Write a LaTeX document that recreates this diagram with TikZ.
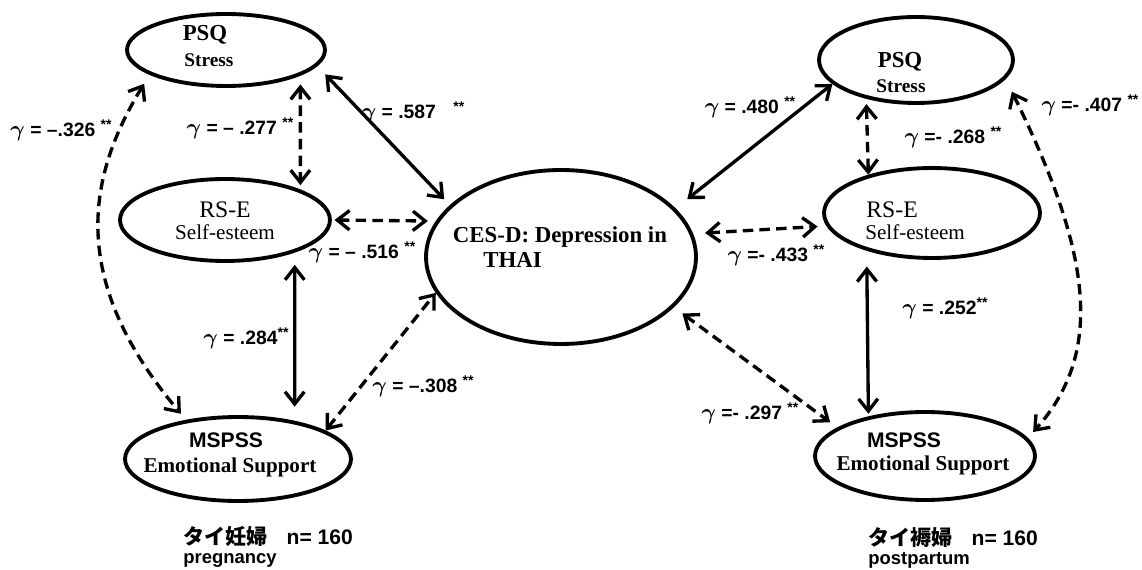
\documentclass[tikz,border=0pt]{standalone}
\usepackage{fontspec}
\setmainfont{Liberation Serif}
\newfontfamily\lsans{Liberation Sans}
\newfontfamily\lserif{Liberation Serif}
\newfontfamily\cjk{Noto Sans CJK JP}
\usetikzlibrary{arrows.meta,shapes.geometric}
\newcommand\gam{{\boldmath\scalebox{1.15}{$\gamma$}}}
\newcommand\stars{\raisebox{0.35em}{\fontsize{8}{8}\selectfont **}}
\tikzset{
  ell/.style={draw, ellipse, line width=2.2pt, inner sep=0pt},
  con/.style={line width=1.9pt, {Straight Barb[length=7pt,width=11pt]}-{Straight Barb[length=7pt,width=11pt]}},
  dsh/.style={con, dash pattern=on 6pt off 3.5pt},
  lab/.style={font=\lsans\bfseries\fontsize{11}{13}\selectfont, inner sep=0pt},
  tbold/.style={font=\lserif\bfseries\fontsize{13}{15}\selectfont, inner sep=0pt},
  tsub/.style={font=\lserif\bfseries\fontsize{11}{13}\selectfont, inner sep=0pt},
  mincho/.style={font=\lserif\fontsize{13.5}{15}\selectfont, inner sep=0pt},
  minchos/.style={font=\lserif\fontsize{12}{14}\selectfont, inner sep=0pt},
  sansb/.style={font=\lsans\bfseries\fontsize{12}{14}\selectfont, inner sep=0pt},
  subb/.style={font=\lserif\bfseries\fontsize{12}{14}\selectfont, inner sep=0pt},
  foot/.style={font=\lsans\bfseries\fontsize{12}{14}\selectfont, inner sep=0pt, anchor=west},
  footsub/.style={font=\lsans\bfseries\fontsize{10.5}{12}\selectfont, inner sep=0pt, anchor=west},
}
\begin{document}
\begin{tikzpicture}[x=0.02cm, y=-0.02cm]
\useasboundingbox (0,0) rectangle (1142,570);
% ellipses
\node[ell, minimum width=3.96cm, minimum height=1.44cm] (lpsq) at (226,50) {};
\node[ell, minimum width=4.2cm, minimum height=1.64cm] (lrse) at (225,220) {};
\node[ell, minimum width=4.52cm, minimum height=1.68cm] (lmsp) at (238,459) {};
\node[ell, minimum width=5.4cm, minimum height=3.48cm] (ces) at (561,257) {};
\node[ell, minimum width=3.88cm, minimum height=1.72cm] (rpsq) at (916,60) {};
\node[ell, minimum width=4.32cm, minimum height=1.8cm] (rrse) at (932,213) {};
\node[ell, minimum width=4.4cm, minimum height=1.76cm] (rmsp) at (925,456) {};
% texts in ellipses
\node[tbold] (lpsqa) at (205,35) {PSQ};
\node[tsub] (lpsqb) at (209,60) {Stress};
\node[mincho] (lrsea) at (225,210) {RS-E};
\node[minchos] (lrseb) at (225,232) {Self-esteem};
\node[sansb] (lmspa) at (226,440) {MSPSS};
\node[subb] (lmspb) at (230,467) {Emotional Support};
\node[tbold] (cesa) at (560,237) {CES-D: Depression in};
\node[tbold, anchor=west] (cesb) at (483,260) {THAI};
\node[tbold] (rpsqa) at (900,62) {PSQ};
\node[tsub] (rpsqb) at (901,86) {Stress};
\node[mincho, anchor=west] (rrsea) at (866,210) {RS-E};
\node[minchos, anchor=west] (rrseb) at (865,232) {Self-esteem};
\node[sansb] (rmspa) at (904,440) {MSPSS};
\node[subb] (rmspb) at (923,465) {Emotional Support};
% connectors left
\draw[dsh, shorten <=5pt, shorten >=2.5pt] (lpsq.-19) -- (lrse.22);
\draw[con, shorten <=6.5pt, shorten >=4.6pt] (lpsq.-10.3) -- (ces.155.6);
\draw[dsh, shorten <=1.5pt, shorten >=4.5pt] (lrse.0) -- (ces.164);
\draw[con, shorten <=7pt, shorten >=8pt] (lrse.-25) -- (lmsp.34);
\draw[dsh] (lmsp.18) -- (ces.196);
\draw[dsh, shorten <=6pt, shorten >=4.5pt] (lpsq.198) .. controls (85,180) and (70,282) .. (lmsp.143);
% connectors right
\draw[con, shorten >=8.5pt] (rpsq.196) -- (ces.23);
\draw[dsh, shorten <=3pt] (rpsq.218.5) -- (rrse.149.8);
\draw[dsh, shorten <=6.8pt, shorten >=5pt] (ces.10) -- (rrse.187.6);
\draw[con, shorten <=9pt, shorten >=1.5pt] (rrse.210.8) -- (rmsp.145.2);
\draw[dsh, shorten <=6pt, shorten >=5pt] (ces.-24.3) -- (rmsp.162.4);
\draw[dsh, shorten <=8pt, shorten >=4.5pt] (rpsq.-12) .. controls (1090,250) and (1106,351) .. (rmsp.10);
% labels
\node[lab] (g1) at (61,130) {\gam{} = –.326 \stars};
\node[lab] (g2) at (240,128) {\gam{} = – .277 \stars};
\node[lab] (g3) at (413,112) {\gam{} = .587\hspace{0.9em}\stars};
\node[lab] (g4) at (362,252) {\gam{} = – .516 \stars};
\node[lab] (g5) at (246,338) {\gam{} = .284\stars};
\node[lab] (g6) at (423,386) {\gam{} = –.308 \stars};
\node[lab] (g7) at (750,107) {\gam{} = .480 \stars};
\node[lab] (g8) at (953,137) {\gam{} =- .268 \stars};
\node[lab] (g9) at (1090,105) {\gam{} =- .407 \stars};
\node[lab] (g10) at (776,255) {\gam{} =- .433 \stars};
\node[lab] (g11) at (945,308) {\gam{} = .252\stars};
\node[lab] (g12) at (750,413) {\gam{} =- .297 \stars};
% footers
\node[foot] (f1) at (183,537) {{\cjk\bfseries タイ妊婦}\hspace{0.9em}n= 160};
\node[footsub] (f2) at (183,560) {pregnancy};
\node[foot] (f3) at (868,537) {{\cjk\bfseries タイ褥婦}\hspace{0.9em}n= 160};
\node[footsub] (f4) at (868,560) {postpartum};
\end{tikzpicture}
\end{document}
